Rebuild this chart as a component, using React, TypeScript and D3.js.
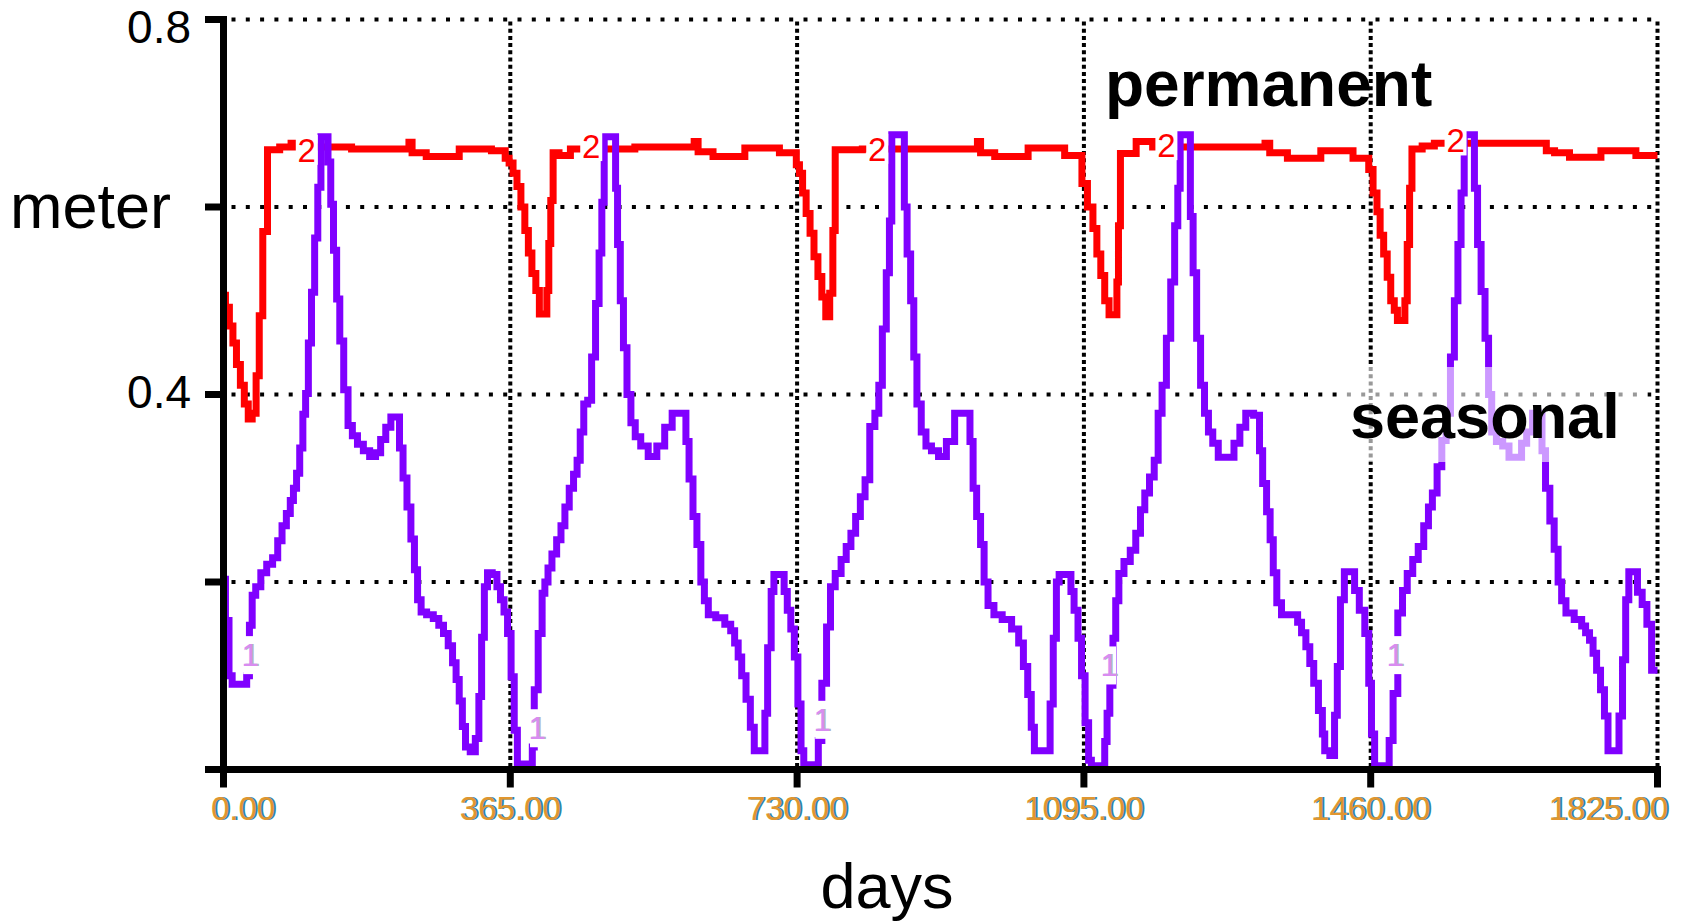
import React from "react";
import * as d3 from "d3";

// values: [day, meter]
const seasonal: [number, number][] = [
  [0, 0.203], [5, 0.159], [9, 0.1], [13, 0.091], [28, 0.091], [31, 0.1], [35, 0.154], [38, 0.186],
  [44, 0.195], [51, 0.21], [59, 0.219], [66, 0.226], [72, 0.244], [77, 0.26], [83, 0.273], [87, 0.287],
  [91, 0.3], [95, 0.316], [99, 0.343], [103, 0.379], [106, 0.401], [110, 0.455], [114, 0.509], [118, 0.567],
  [122, 0.621], [126, 0.675], [131, 0.675], [135, 0.648], [138, 0.603], [142, 0.554], [146, 0.502], [150, 0.457],
  [156, 0.405], [161, 0.367], [167, 0.356], [174, 0.347], [182, 0.34], [190, 0.334], [197, 0.338], [203, 0.352],
  [210, 0.365], [216, 0.376], [222, 0.376], [226, 0.343], [231, 0.311], [236, 0.28], [241, 0.246], [245, 0.213],
  [249, 0.181], [254, 0.168], [263, 0.165], [271, 0.161], [277, 0.154], [283, 0.145], [289, 0.132], [294, 0.114],
  [298, 0.096], [302, 0.073], [306, 0.046], [310, 0.024], [318, 0.019], [323, 0.033], [327, 0.078], [330, 0.141],
  [334, 0.195], [338, 0.21], [346, 0.208], [350, 0.195], [355, 0.181], [359, 0.168], [364, 0.145],
  [368, 0.099], [372, 0.042], [376, 0.006], [392, 0.006], [394, 0.024], [397, 0.085], [404, 0.145], [407, 0.188],
  [411, 0.2], [415, 0.215], [421, 0.23], [427, 0.245], [432, 0.26], [437, 0.28], [443, 0.3], [448, 0.315],
  [452, 0.33], [456, 0.36], [461, 0.39], [466, 0.394], [471, 0.44], [476, 0.497], [480, 0.551], [483, 0.605],
  [486, 0.675], [498, 0.675], [500, 0.62], [503, 0.56], [507, 0.5], [511, 0.45], [516, 0.4], [521, 0.37],
  [527, 0.355], [535, 0.345], [546, 0.334], [557, 0.345], [566, 0.365], [576, 0.38], [587, 0.38], [590, 0.35],
  [595, 0.31], [600, 0.27], [605, 0.24], [610, 0.2], [614, 0.18], [620, 0.165], [633, 0.162], [643, 0.155],
  [648, 0.148], [653, 0.135], [657, 0.12], [662, 0.1], [668, 0.075], [673, 0.045], [678, 0.02], [688, 0.02],
  [690, 0.06], [695, 0.13], [699, 0.19], [702, 0.208], [712, 0.208], [715, 0.19], [720, 0.17], [724, 0.15],
  [729, 0.12],
  [733, 0.07], [737, 0.02], [740, 0.005], [756, 0.005], [758, 0.031], [765, 0.092], [770, 0.152], [775, 0.195],
  [782, 0.209], [790, 0.224], [795, 0.238], [802, 0.252], [807, 0.27], [814, 0.291], [819, 0.309], [826, 0.366],
  [832, 0.38], [836, 0.41], [841, 0.47], [846, 0.53], [849, 0.585], [852, 0.677], [865, 0.677], [868, 0.6],
  [872, 0.55], [877, 0.5], [880, 0.44], [885, 0.39], [891, 0.36], [897, 0.345], [905, 0.34], [915, 0.334],
  [925, 0.35], [936, 0.38], [948, 0.38], [952, 0.35], [956, 0.3], [961, 0.27], [966, 0.24], [970, 0.2],
  [976, 0.175], [985, 0.165], [997, 0.16], [1009, 0.15], [1015, 0.135], [1021, 0.11], [1026, 0.08], [1030, 0.045],
  [1034, 0.02], [1050, 0.02], [1054, 0.07], [1058, 0.14], [1062, 0.2], [1065, 0.208], [1077, 0.208], [1080, 0.19],
  [1085, 0.17], [1090, 0.14], [1094, 0.1],
  [1099, 0.05], [1103, 0.01], [1106, 0.004], [1120, 0.004], [1123, 0.03], [1126, 0.06], [1130, 0.09], [1134, 0.14],
  [1137, 0.18], [1142, 0.209], [1150, 0.222], [1158, 0.234], [1164, 0.252], [1170, 0.277], [1175, 0.295], [1182, 0.312],
  [1187, 0.33], [1192, 0.38], [1197, 0.41], [1203, 0.46], [1208, 0.52], [1213, 0.58], [1216, 0.62], [1219, 0.677],
  [1229, 0.677], [1232, 0.59], [1236, 0.53], [1241, 0.46], [1246, 0.41], [1251, 0.38], [1256, 0.36], [1262, 0.348],
  [1270, 0.333], [1282, 0.333], [1290, 0.348], [1297, 0.365], [1305, 0.38], [1317, 0.378], [1320, 0.34], [1325, 0.305],
  [1330, 0.275], [1334, 0.245], [1338, 0.21], [1343, 0.178], [1350, 0.165], [1365, 0.165], [1369, 0.157], [1375, 0.146],
  [1380, 0.131], [1385, 0.113], [1390, 0.092], [1397, 0.063], [1400, 0.038], [1403, 0.02], [1413, 0.015], [1415, 0.058],
  [1420, 0.11], [1423, 0.181], [1430, 0.211], [1437, 0.211], [1442, 0.191], [1449, 0.17], [1456, 0.145], [1459, 0.092],
  [1463, 0.038],
  [1467, 0.004], [1481, 0.004], [1486, 0.031], [1491, 0.081], [1498, 0.167], [1503, 0.191], [1510, 0.209], [1517, 0.224],
  [1524, 0.238], [1531, 0.26], [1536, 0.28], [1541, 0.295], [1548, 0.323], [1553, 0.351], [1559, 0.38], [1564, 0.44],
  [1569, 0.5], [1573, 0.56], [1577, 0.615], [1581, 0.677], [1590, 0.677], [1594, 0.62], [1598, 0.56], [1603, 0.51],
  [1608, 0.46], [1612, 0.4], [1616, 0.36], [1624, 0.35], [1632, 0.345], [1640, 0.333], [1649, 0.333], [1655, 0.348],
  [1662, 0.36], [1670, 0.38], [1676, 0.38], [1680, 0.34], [1685, 0.3], [1691, 0.265], [1696, 0.235], [1701, 0.2],
  [1705, 0.18], [1712, 0.167], [1726, 0.16], [1731, 0.153], [1736, 0.146], [1741, 0.138], [1745, 0.124], [1750, 0.106],
  [1755, 0.085], [1760, 0.057], [1764, 0.02], [1774, 0.02], [1778, 0.057], [1783, 0.117], [1786, 0.181], [1791, 0.211],
  [1797, 0.211], [1802, 0.189], [1809, 0.176], [1814, 0.155], [1821, 0.106], [1825, 0.106],
];

const permanent: [number, number][] = [
  [0, 0.506], [5, 0.493], [10, 0.473], [14, 0.455], [19, 0.432], [24, 0.41], [29, 0.39], [34, 0.374],
  [39, 0.38], [44, 0.42], [47, 0.484], [53, 0.574], [59, 0.661], [84, 0.664], [88, 0.668], [92, 0.664],
  [234, 0.662], [238, 0.669], [242, 0.658], [274, 0.654], [326, 0.662], [356, 0.66], [361, 0.652],
  [366, 0.647], [371, 0.636], [376, 0.622], [381, 0.6], [386, 0.575], [390, 0.551], [395, 0.529], [400, 0.511],
  [404, 0.486], [410, 0.486], [413, 0.511], [415, 0.561], [418, 0.607], [421, 0.658], [433, 0.655], [450, 0.662],
  [597, 0.664], [601, 0.67], [607, 0.659], [639, 0.654], [688, 0.663], [727, 0.658],
  [731, 0.645], [735, 0.636], [739, 0.615], [744, 0.593], [749, 0.572], [754, 0.547], [759, 0.526], [764, 0.504],
  [769, 0.483], [774, 0.508], [777, 0.575], [780, 0.661], [846, 0.662], [958, 0.662], [961, 0.67], [966, 0.658],
  [997, 0.654], [1051, 0.663], [1090, 0.655],
  [1095, 0.625], [1104, 0.6], [1109, 0.577], [1114, 0.55], [1119, 0.527], [1124, 0.5], [1130, 0.485], [1136, 0.485],
  [1138, 0.52], [1140, 0.58], [1143, 0.657], [1180, 0.67], [1185, 0.664], [1323, 0.664], [1328, 0.668], [1335, 0.658],
  [1373, 0.652], [1420, 0.66], [1455, 0.652],
  [1460, 0.64], [1466, 0.615], [1470, 0.595], [1474, 0.57], [1479, 0.55], [1483, 0.525], [1488, 0.5], [1492, 0.49],
  [1496, 0.479], [1502, 0.479], [1505, 0.5], [1508, 0.56], [1511, 0.62], [1514, 0.662], [1537, 0.665], [1545, 0.668],
  [1678, 0.668], [1689, 0.66], [1699, 0.658], [1727, 0.653], [1779, 0.66], [1816, 0.655], [1825, 0.655],
];

// line markers "1" and "2" sitting on the curves
const seasonalMarkDays = [34, 399, 762, 1127, 1491];
const seasonalMarkValues = [0.122, 0.044, 0.053, 0.111, 0.122];
const permanentMarkDays = [106, 468, 832, 1200, 1568];
const permanentMarkValues = [0.661, 0.665, 0.662, 0.666, 0.671];

const xTicks = [0, 365, 730, 1095, 1460, 1825];
const yTicks = [0.8, 0.6, 0.4, 0.2, 0];
const yLabelled = [0.8, 0.4];
const hGrid = [0.8, 0.6, 0.4, 0.2];
const vGrid = [365, 730, 1095, 1460, 1825];

const FONT = "'Liberation Sans', Arial, Helvetica, sans-serif";

export default function App() {
  const width = 1681;
  const height = 921;

  const x = d3.scaleLinear().domain([0, 1825]).range([223.5, 1657.5]);
  const y = d3.scaleLinear().domain([0, 0.8]).range([769.5, 19.5]);

  const line = d3
    .line<[number, number]>()
    .x((d) => x(d[0]))
    .y((d) => y(d[1]))
    .curve(d3.curveStep);

  const fmt = d3.format(".2f");
  const axisX0 = x(0) - 18.5; // where the y ticks start

  return (
    <svg
      width={width}
      height={height}
      style={{ position: "absolute", left: 0, top: 0, background: "#fff" }}
      fontFamily={FONT}
    >
      <rect width={width} height={height} fill="#fff" />

      {/* dotted grid */}
      {hGrid.map((v) => (
        <line
          key={"h" + v}
          x1={x(0) + 8}
          x2={x(1825)}
          y1={y(v)}
          y2={y(v)}
          stroke="#000"
          strokeWidth={4}
          strokeDasharray="4 10.3"
        />
      ))}
      {vGrid.map((d) => (
        <line
          key={"v" + d}
          x1={x(d)}
          x2={x(d)}
          y1={y(0.8) + 2}
          y2={y(0) - 3.5}
          stroke="#000"
          strokeWidth={4}
          strokeDasharray="4 3.2"
        />
      ))}

      {/* series */}
      <path d={line(permanent) || ""} fill="none" stroke="#ff0000" strokeWidth={7} strokeLinejoin="miter" />
      <path d={line(seasonal) || ""} fill="none" stroke="#8000ff" strokeWidth={7} strokeLinejoin="miter" />

      {/* markers */}
      {permanentMarkDays.map((d, i) => (
        <g key={"p" + i}>
          <rect x={x(d) - 11} y={y(permanentMarkValues[i]) - 15} width={22} height={30} fill="#fff" />
          <text
            x={x(d)}
            y={y(permanentMarkValues[i]) + 12}
            textAnchor="middle"
            fontSize={33}
            fill="#ff0000"
          >
            2
          </text>
        </g>
      ))}
      {seasonalMarkDays.map((d, i) => (
        <g key={"s" + i}>
          <rect x={x(d) - 7} y={y(seasonalMarkValues[i]) - 19} width={14} height={38} fill="#fff" />
          <text
            x={x(d) + 1.5}
            y={y(seasonalMarkValues[i]) + 11}
            textAnchor="middle"
            fontSize={31}
            fill="#aab2c6"
          >
            1
          </text>
          <text
            x={x(d)}
            y={y(seasonalMarkValues[i]) + 11}
            textAnchor="middle"
            fontSize={31}
            fill="#d88cf0"
          >
            1
          </text>
        </g>
      ))}

      {/* series names */}
      <text x={1105} y={106} fontSize={64} fontWeight="bold" fill="#000">
        permanent
      </text>
      <rect x={1340} y={367} width={308} height={95} fill="#fff" fillOpacity={0.6} />
      <text x={1350} y={438} fontSize={63} fontWeight="bold" fill="#000">
        seasonal
      </text>

      {/* axes */}
      <line x1={x(0)} x2={x(0)} y1={y(0.8) - 3.5} y2={y(0) + 3.5} stroke="#000" strokeWidth={7} />
      <line x1={axisX0} x2={x(1825) + 3.5} y1={y(0)} y2={y(0)} stroke="#000" strokeWidth={7} />
      {yTicks.map((v) => (
        <line key={"yt" + v} x1={axisX0} x2={x(0)} y1={y(v)} y2={y(v)} stroke="#000" strokeWidth={7} />
      ))}
      {xTicks.map((d) => (
        <line key={"xt" + d} x1={x(d)} x2={x(d)} y1={y(0)} y2={y(0) + 18} stroke="#000" strokeWidth={7} />
      ))}

      {/* y labels */}
      {yLabelled.map((v) => (
        <text key={"yl" + v} x={191} y={Math.max(y(v) + 13.5, 43)} textAnchor="end" fontSize={46} fill="#000">
          {String(v)}
        </text>
      ))}
      <text x={10} y={y(0.6) + 21} fontSize={63} fill="#000">
        meter
      </text>

      {/* x labels */}
      {xTicks.map((d, i) => {
        const first = i === 0;
        const last = i === xTicks.length - 1;
        const anchor = first ? "start" : last ? "end" : "middle";
        const lx = first ? 211 : last ? 1668 : x(d);
        return (
          <g key={"xl" + d} fontSize={33}>
            <text x={lx + 2} y={820} textAnchor={anchor} fill="#2b86a8">
              {fmt(d)}
            </text>
            <text x={lx} y={820} textAnchor={anchor} fill="#e0962f">
              {fmt(d)}
            </text>
          </g>
        );
      })}
      <text x={887} y={908} textAnchor="middle" fontSize={63} fill="#000">
        days
      </text>
    </svg>
  );
}
